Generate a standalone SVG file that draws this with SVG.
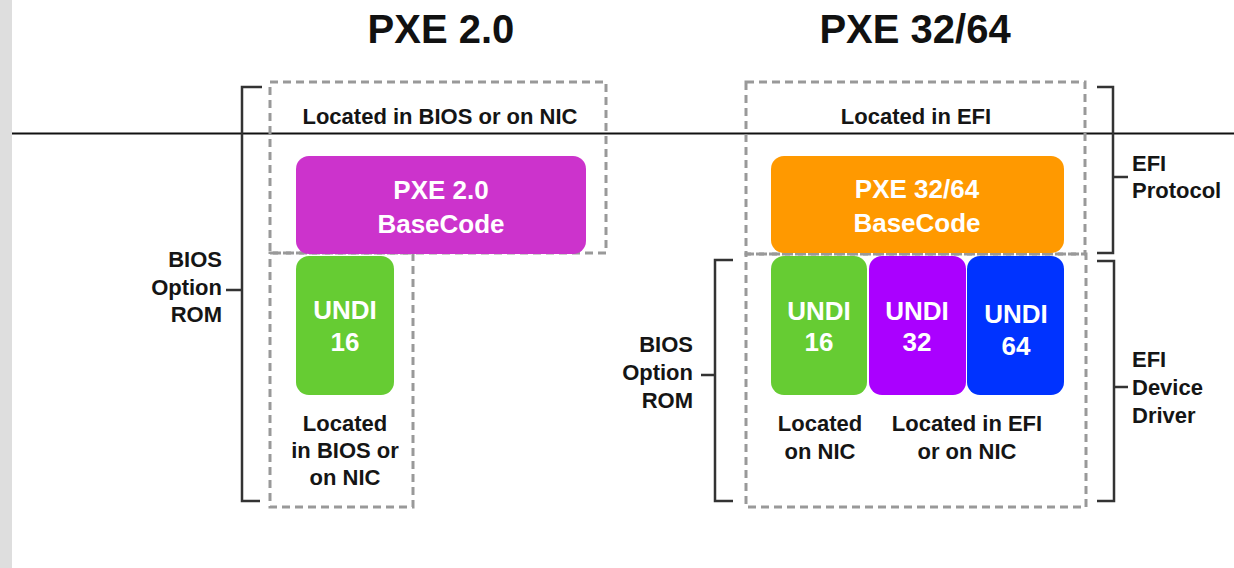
<svg xmlns="http://www.w3.org/2000/svg" width="1234" height="568" viewBox="0 0 1234 568">
<style>
text{font-family:"Liberation Sans",Arial,Helvetica,sans-serif;font-weight:bold}
.title{font-size:40px;fill:#111;text-anchor:middle}
.lbl{font-size:22px;fill:#151515;text-anchor:middle}
.lblr{font-size:22px;fill:#151515;text-anchor:end}
.lbll{font-size:22px;fill:#151515;text-anchor:start}
.wt{font-size:26px;fill:#fff;text-anchor:middle}
.dash{fill:none;stroke:#999;stroke-width:3;stroke-dasharray:8 5}
.br{fill:none;stroke:#333;stroke-width:2.5}
</style>
<rect x="0" y="0" width="12" height="568" fill="#dedede"/>
<rect x="12" y="0" width="1222" height="568" fill="#fff"/>
<line x1="12" y1="133.5" x2="1234" y2="133.5" stroke="#111" stroke-width="2"/>

<text class="title" x="441" y="43">PXE 2.0</text>
<text class="title" x="915" y="43">PXE 32/64</text>

<g id="left-top-region">
<rect class="dash" x="270" y="82" width="336" height="171"/>
<text class="lbl" x="440" y="124">Located in BIOS or on NIC</text>
</g>
<g id="left-bottom-region">
<rect class="dash" x="270" y="253" width="143" height="254"/>
<text class="lbl" x="345" y="431">Located</text>
<text class="lbl" x="345" y="458">in BIOS or</text>
<text class="lbl" x="345" y="485">on NIC</text>
</g>
<g id="right-top-region">
<rect class="dash" x="746" y="82" width="339" height="172"/>
<text class="lbl" x="916" y="124">Located in EFI</text>
</g>
<g id="right-bottom-region">
<rect class="dash" x="746" y="254" width="340" height="253"/>
<text class="lbl" x="820" y="431">Located</text>
<text class="lbl" x="820" y="459">on NIC</text>
<text class="lbl" x="967" y="431">Located in EFI</text>
<text class="lbl" x="967" y="459">or on NIC</text>
</g>

<g id="pxe20-basecode">
<rect x="296" y="156" width="290" height="98" rx="13" fill="#cc33cc"/>
<text class="wt" x="441" y="199">PXE 2.0</text>
<text class="wt" x="441" y="233">BaseCode</text>
</g>
<g id="undi16-left">
<rect x="296" y="256" width="98" height="139" rx="13" fill="#66cc33"/>
<text class="wt" x="345" y="319">UNDI</text>
<text class="wt" x="345" y="351">16</text>
</g>
<g id="pxe3264-basecode">
<rect x="771" y="156" width="293" height="97" rx="13" fill="#ff9900"/>
<text class="wt" x="917" y="198">PXE 32/64</text>
<text class="wt" x="917" y="232">BaseCode</text>
</g>
<g id="undi16-right">
<rect x="771" y="256" width="96" height="139" rx="13" fill="#66cc33"/>
<text class="wt" x="819" y="320">UNDI</text>
<text class="wt" x="819" y="351">16</text>
</g>
<g id="undi32">
<rect x="869" y="256" width="97" height="139" rx="13" fill="#aa00ff"/>
<text class="wt" x="917" y="320">UNDI</text>
<text class="wt" x="917" y="351">32</text>
</g>
<g id="undi64">
<rect x="967" y="256" width="97" height="139" rx="13" fill="#0033ff"/>
<text class="wt" x="1016" y="323">UNDI</text>
<text class="wt" x="1016" y="355">64</text>
</g>

<g id="label-bios-left">
<text class="lblr" x="222" y="267">BIOS</text>
<text class="lblr" x="222" y="295">Option</text>
<text class="lblr" x="222" y="322">ROM</text>
</g>
<g id="label-bios-right">
<text class="lblr" x="693" y="352">BIOS</text>
<text class="lblr" x="693" y="380">Option</text>
<text class="lblr" x="693" y="408">ROM</text>
</g>
<g id="label-efi-protocol">
<text class="lbll" x="1132" y="171">EFI</text>
<text class="lbll" x="1132" y="198">Protocol</text>
</g>
<g id="label-efi-driver">
<text class="lbll" x="1132" y="367">EFI</text>
<text class="lbll" x="1132" y="395">Device</text>
<text class="lbll" x="1132" y="423">Driver</text>
</g>

<g id="connectors">
<path class="br" d="M262 87 H242 V501 H260 M242 290 H226"/>
<path class="br" d="M733 260 H715 V501 H733 M715 375 H701"/>
<path class="br" d="M1097 87 H1113 V253 H1097 M1113 177 H1128"/>
<path class="br" d="M1097 261 H1114 V501 H1097 M1114 387 H1128"/>
</g>
</svg>
